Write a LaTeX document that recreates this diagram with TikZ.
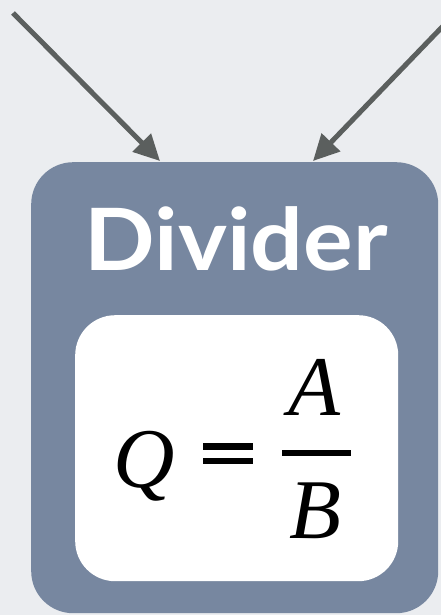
\documentclass[tikz,border=0pt]{standalone}
\usepackage{fontspec}
\setmainfont{Liberation Serif}
\newfontfamily\titlefont{Lato}
\usetikzlibrary{arrows.meta}
\definecolor{bgc}{HTML}{EBEDF0}
\definecolor{boxc}{HTML}{7787A0}
\definecolor{arrc}{HTML}{5B5F5E}
\tikzset{
  outerbox/.style={fill=boxc, rounded corners=42pt, minimum width=407pt, minimum height=451pt, inner sep=0pt, anchor=north west},
  innerbox/.style={fill=white, rounded corners=40pt, minimum width=323pt, minimum height=266pt, inner sep=0pt, anchor=north west},
  feed/.style={draw=arrc, line width=5pt, -{Triangle[length=26pt,width=25pt]}},
  mathtxt/.style={font=\fontsize{85}{85}\selectfont\itshape, inner sep=0pt, anchor=base}
}
\begin{document}
\begin{tikzpicture}[x=1pt,y=-1pt]
\fill[bgc] (0,0) rectangle (441,615);
\useasboundingbox (0,0) rectangle (441,615);
\clip (0,0) rectangle (441,615);
\node[outerbox] (outer) at (31,162) {};
\node[innerbox] (inner) at (75,315) {};
\node[font=\titlefont\bfseries\fontsize{86}{86}\selectfont, text=white, inner sep=0pt, anchor=base, xscale=1.08] (title) at (236,270) {Divider};
\coordinate (s1) at (13,13);
\coordinate (t1) at (160,161);
\coordinate (s2) at (445,24);
\coordinate (t2) at (313,161);
\draw[feed] (s1) -- (t1);
\draw[feed] (s2) -- (t2);
\node[mathtxt] (q) at (144,487) {Q};
\fill[black] (203,443) rectangle (253,449.5);
\fill[black] (203,457.5) rectangle (253,464);
\node[mathtxt] (a) at (314,415) {A};
\fill[black] (282,450) rectangle (351,456);
\node[mathtxt] (b) at (315,538) {B};
\end{tikzpicture}
\end{document}
